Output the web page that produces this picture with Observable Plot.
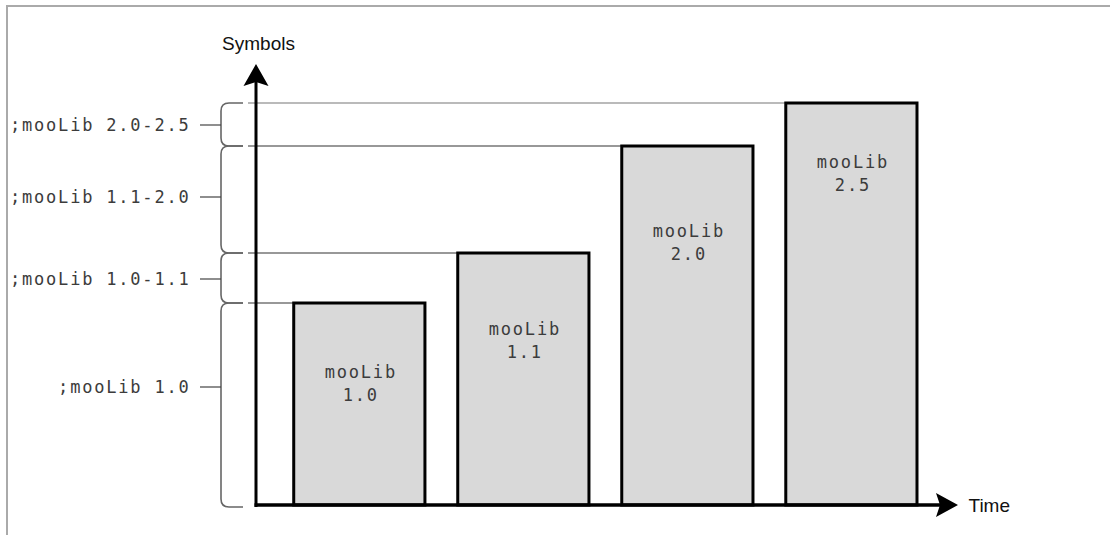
<!DOCTYPE html>
<html>
<head>
<meta charset="utf-8">
<script src="https://cdn.jsdelivr.net/npm/d3@7"></script>
<script src="https://cdn.jsdelivr.net/npm/@observablehq/plot@0.6"></script>
<style>
  html, body { margin: 0; padding: 0; background: #fff; }
  #wrap { position: relative; width: 1110px; height: 535px; overflow: hidden; }
  #border { position: absolute; left: 6px; top: 5px; right: 0; bottom: 0;
            border-top: 2px solid #aaaaaa; border-left: 2px solid #aaaaaa; }
  #chart { position: absolute; left: 0; top: 0; }
  #chart g[font-family*="Mono"], #chart g[font-family*="Mono"] text { letter-spacing: 1.8px; }
</style>
</head>
<body>
<div id="wrap"><div id="border"></div><div id="chart"></div></div>
<script>
// ---- data ----
const versions = ["1.0", "1.1", "2.0", "2.5"];
const releaseTime = [1, 2, 3, 4];                 // release order on the time axis
const symbols = [202, 252, 359, 402];             // symbol count of each release
const barLabelAt = [123, 166, 264, 333];          // height of the in-bar caption
const rangeLabels = [";mooLib 1.0", ";mooLib 1.0-1.1", ";mooLib 1.1-2.0", ";mooLib 2.0-2.5"];
const rangeTickAt = [118, 226, 308, 380];          // where each range's label sits
const axisLabels = ["Symbols", "Time"];

const bars = versions.map((v, i) => ({
  version: v, t: releaseTime[i], symbols: symbols[i],
  labelAt: barLabelAt[i], caption: "mooLib\n" + v
}));
const ranges = rangeLabels.map((label, i) => ({
  label, lo: i === 0 ? 0 : symbols[i - 1], hi: symbols[i], tick: rangeTickAt[i]
}));

const mono = "'DejaVu Sans Mono', 'Liberation Mono', monospace";
const sans = "'Liberation Sans', Arial, Helvetica, sans-serif";
const halfBar = 0.4;

// brackets, guide lines and label ticks
function brackets(index, scales, values, dims) {
  const {x, y} = scales;
  const g = d3.create("svg:g");
  const xa = dims.marginLeft;
  const bx = xa - 35, bEnd = xa - 13, r = 8;
  bars.forEach((b, i) => {
    g.append("line")
      .attr("x1", xa - 8).attr("x2", x(b.t - halfBar))
      .attr("y1", y(b.symbols)).attr("y2", y(b.symbols))
      .attr("stroke", i === bars.length - 1 ? "#777" : "#333").attr("stroke-width", 1.1);
  });
  for (const rg of ranges) {
    const yt = y(rg.hi), yb = y(rg.lo) + (rg.lo === 0 ? 2 : 0);
    g.append("path")
      .attr("d", `M${bEnd},${yt}H${bx + r}Q${bx},${yt} ${bx},${yt + r}V${yb - r}Q${bx},${yb} ${bx + r},${yb}H${bEnd}`)
      .attr("fill", "none").attr("stroke", "#666").attr("stroke-width", 1.6);
    const ty = y(rg.tick);
    g.append("line")
      .attr("x1", xa - 56).attr("x2", bx)
      .attr("y1", ty).attr("y2", ty)
      .attr("stroke", "#444").attr("stroke-width", 1.2);
  }
  return g.node();
}

// axes with filled arrowheads
function axes(index, scales, values, dims) {
  const {y} = scales;
  const g = d3.create("svg:g");
  const xa = dims.marginLeft, y0 = y(0);
  const yTop = dims.marginTop, xEnd = dims.width - dims.marginRight;
  g.append("line").attr("x1", xa).attr("x2", xa).attr("y1", y0 + 2).attr("y2", yTop + 18)
    .attr("stroke", "#000").attr("stroke-width", 3);
  g.append("path")
    .attr("d", `M${xa},${yTop}L${xa + 12.5},${yTop + 22}L${xa},${yTop + 18}L${xa - 12.5},${yTop + 22}Z`)
    .attr("fill", "#000");
  g.append("line").attr("x1", xa - 1.5).attr("x2", xEnd - 18).attr("y1", y0).attr("y2", y0)
    .attr("stroke", "#000").attr("stroke-width", 3.5);
  g.append("path")
    .attr("d", `M${xEnd},${y0}L${xEnd - 22},${y0 - 12}L${xEnd - 18},${y0}L${xEnd - 22},${y0 + 12}Z`)
    .attr("fill", "#000");
  return g.node();
}

const chart = Plot.plot({
  width: 1110,
  height: 535,
  marginLeft: 256,
  marginRight: 152,
  marginTop: 64,
  marginBottom: 30,
  x: {type: "linear", domain: [0.37, 4.65], axis: null},
  y: {type: "linear", domain: [0, 441], axis: null},
  marks: [
    brackets,
    Plot.rectY(bars, {
      x1: d => d.t - halfBar, x2: d => d.t + halfBar, y: "symbols",
      fill: "#d9d9d9", stroke: "#000", strokeWidth: 3
    }),
    Plot.text(bars, {
      x: "t", y: "labelAt", text: "caption", lineHeight: 1.35, dx: 1,
      fontFamily: mono, fontSize: 17, fill: "#3c3c3c"
    }),
    Plot.text(ranges, {
      y: "tick", text: "label", frameAnchor: "left", dx: -66, textAnchor: "end",
      fontFamily: mono, fontSize: 17, fill: "#3c3c3c"
    }),
    axes,
    Plot.text([axisLabels[0]], {
      frameAnchor: "top-left", lineAnchor: "middle", dy: -21, dx: 2, textAnchor: "middle",
      fontFamily: sans, fontSize: 19, fill: "#111"
    }),
    Plot.text([axisLabels[1]], {
      frameAnchor: "bottom-right", lineAnchor: "middle", dx: 10, textAnchor: "start",
      fontFamily: sans, fontSize: 19, fill: "#111"
    })
  ]
});
chart.style.background = "transparent";
document.getElementById("chart").appendChild(chart);
</script>
</body>
</html>
